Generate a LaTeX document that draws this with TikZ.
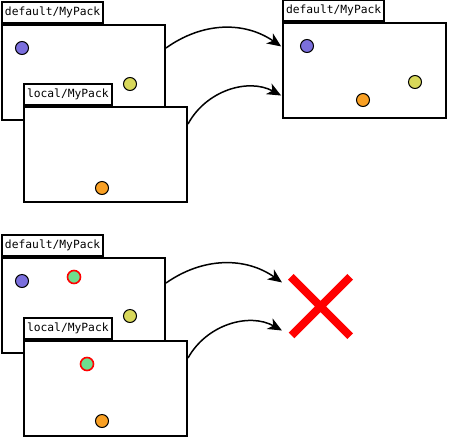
\documentclass[tikz,border=0pt]{standalone}
\usepackage{fontspec}
\setmonofont{DejaVu Sans Mono}
\usetikzlibrary{positioning}
\usetikzlibrary{arrows.meta}

\definecolor{dotpurple}{HTML}{7B6FDD}
\definecolor{dotyellow}{HTML}{D8D85A}
\definecolor{dotorange}{HTML}{F9A024}
\definecolor{dotgreen}{HTML}{6FDE8E}

\begin{document}
\begin{tikzpicture}[x=1pt,y=-1pt,>={Stealth[length=14pt,width=12pt,inset=4pt]},
	shorten >=1pt,
	pack/.style={draw,line width=2pt,fill=white,minimum width=163pt,minimum height=95pt,inner sep=0pt},
	tag/.style={draw,line width=2pt,fill=white,anchor=south west,inner xsep=3pt,inner ysep=0pt,
		minimum height=21pt,font=\ttfamily\fontsize{11.3}{13}\selectfont},
	dot/.style={circle,draw,line width=1pt,minimum size=13pt,inner sep=0pt},
	bad dot/.style={dot,draw=red,line width=1.6pt,fill=dotgreen},
	link/.style={->,line width=1.5pt}]
	
	\useasboundingbox (0,0) rectangle (449,437);
	
	% top: both packs merged
	\node[pack] (defA) at (83.5,72.5) {};
	\node[tag] (defAtag) at (defA.north west) {default/MyPack};
	\node[dot,fill=dotpurple] (pA) at (22,48) {};
	\node[dot,fill=dotyellow] (yA) at (130,84) {};
	
	\node[pack] (locA) at (105.5,154.5) {};
	\node[tag] (locAtag) at (locA.north west) {local/MyPack};
	\node[dot,fill=dotorange] (oA) at (102,188) {};
	
	\node[pack] (res) at (364.5,70.5) {};
	\node[tag] (restag) at (res.north west) {default/MyPack};
	\node[dot,fill=dotpurple] (pR) at (307,46) {};
	\node[dot,fill=dotyellow] (yR) at (415,82) {};
	\node[dot,fill=dotorange] (oR) at (363,100) {};
	
	\draw[link] ([yshift=-24pt]defA.north east) to[bend left=35] ([yshift=-25pt]res.north west);
	\draw[link] ([yshift=-18pt]locA.north east) to[bend left=45] ([yshift=-74pt]res.north west);
	
	% bottom: same object in both packs
	\node[pack] (defB) at (83.5,305.5) {};
	\node[tag] (defBtag) at (defB.north west) {default/MyPack};
	\node[dot,fill=dotpurple] (pB) at (22,281) {};
	\node[bad dot] (gB) at (74,277) {};
	\node[dot,fill=dotyellow] (yB) at (130,316) {};
	
	\node[pack] (locB) at (105.5,388.5) {};
	\node[tag] (locBtag) at (locB.north west) {local/MyPack};
	\node[bad dot] (gL) at (87,364) {};
	\node[dot,fill=dotorange] (oB) at (102,421) {};
	
	\node[minimum size=59pt,inner sep=0pt] (fail) at (320.5,306.5) {};
	\draw[red,line width=8pt] (fail.north west) -- (fail.south east)
	(fail.north east) -- (fail.south west);
	
	\draw[link] ([yshift=-26pt]defB.north east) to[bend left=35] ([xshift=-8pt,yshift=23.5pt]fail.west);
	\draw[link] ([yshift=-18pt]locB.north east) to[bend left=45] ([xshift=-8pt,yshift=-24.5pt]fail.west);
\end{tikzpicture}
\end{document}
